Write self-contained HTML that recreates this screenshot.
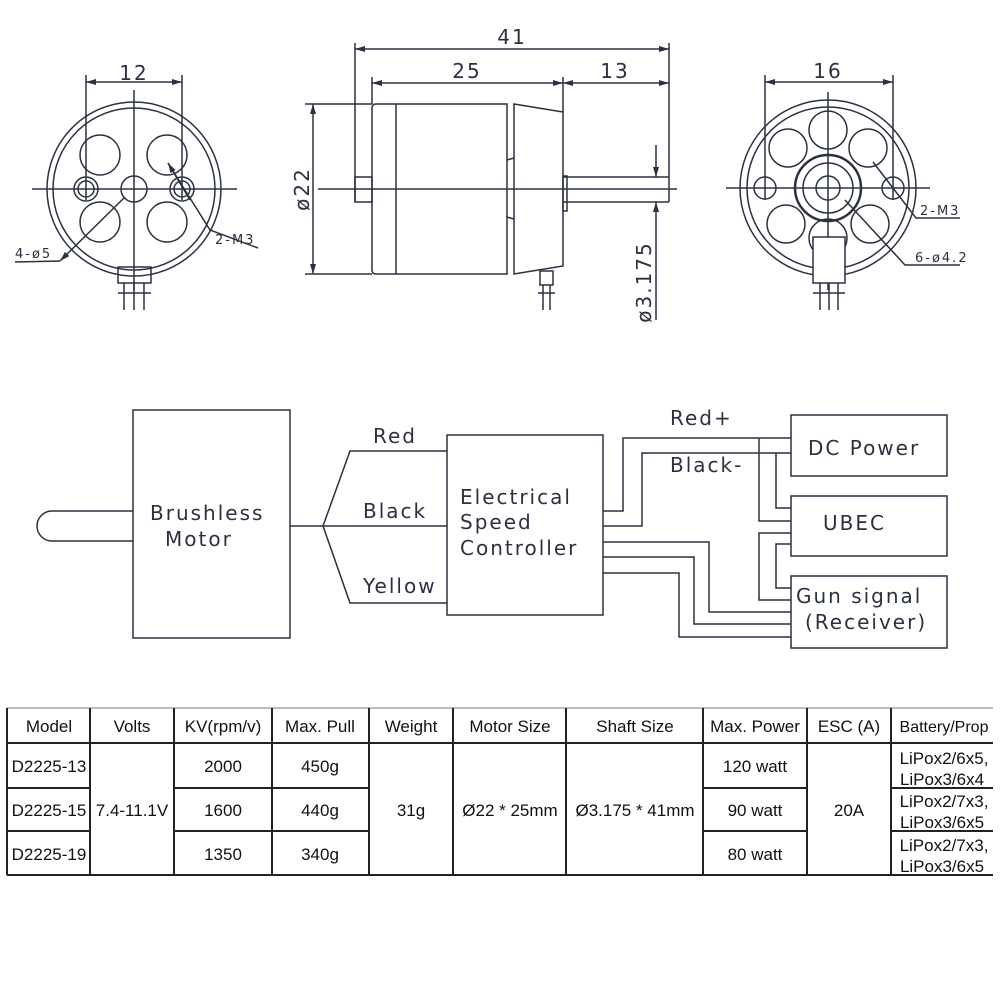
<!DOCTYPE html>
<html><head><meta charset="utf-8"><style>
html,body{margin:0;padding:0;background:#fff;width:1000px;height:1000px;overflow:hidden}
svg{display:block}
.d{fill:none;stroke:#2c3140;stroke-width:1.5}
.t{font-family:"DejaVu Sans","Liberation Sans",sans-serif;fill:#2c3140;font-size:20px;letter-spacing:2px}
.tb{font-family:"Liberation Sans",sans-serif;fill:#111;font-size:17px;text-anchor:middle}
.g{stroke:#222;stroke-width:2;fill:none}
</style></head><body>
<svg width="1000" height="1000" viewBox="0 0 1000 1000">
<defs>
<marker id="a" viewBox="0 0 10 6" refX="10" refY="3" markerWidth="10" markerHeight="6" orient="auto-start-reverse" markerUnits="userSpaceOnUse"><path d="M0,0L10,3L0,6z" fill="#2c3140"/></marker>
</defs>
<!-- LEFT END VIEW -->
<g class="d">
<circle cx="134" cy="189" r="87"/><circle cx="134" cy="189" r="81"/>
<line x1="32" y1="189" x2="237" y2="189"/><line x1="134" y1="90" x2="134" y2="290"/>
<circle cx="100" cy="155" r="20"/><circle cx="167" cy="155" r="20"/>
<circle cx="100" cy="222" r="20"/><circle cx="167" cy="222" r="20"/>
<circle cx="134" cy="189" r="13"/>
<circle cx="86" cy="189" r="12"/><circle cx="86" cy="189" r="8"/>
<circle cx="182" cy="189" r="12"/><circle cx="182" cy="189" r="8"/>
<line x1="86" y1="75" x2="86" y2="200"/><line x1="182" y1="75" x2="182" y2="200"/>
<line x1="86" y1="82" x2="182" y2="82" marker-start="url(#a)" marker-end="url(#a)"/>
<line x1="125" y1="197" x2="60" y2="261" marker-end="url(#a)"/><polyline points="60,261 15,262"/>
<polyline points="168,163 210,230 258,248"/><line x1="190" y1="200" x2="168" y2="163" marker-end="url(#a)"/>
<rect x="118" y="267" width="33" height="16"/>
<line x1="124" y1="283" x2="124" y2="310"/><line x1="134" y1="283" x2="134" y2="310"/><line x1="144" y1="283" x2="144" y2="310"/>
<line x1="118" y1="293" x2="151" y2="293"/>
</g>
<text class="t" x="134" y="80" text-anchor="middle">12</text>
<text class="t" x="15" y="258" style="font-size:13px">4-ø5</text>
<text class="t" x="215" y="244" style="font-size:13px">2-M3</text>
<!-- SIDE VIEW -->
<g class="d">
<line x1="355" y1="43" x2="355" y2="202"/><line x1="669" y1="43" x2="669" y2="202"/>
<line x1="355" y1="49" x2="669" y2="49" marker-start="url(#a)" marker-end="url(#a)"/>
<line x1="372" y1="77" x2="372" y2="104"/><line x1="563" y1="77" x2="563" y2="112"/>
<line x1="372" y1="83" x2="563" y2="83" marker-start="url(#a)" marker-end="url(#a)"/>
<line x1="563" y1="83" x2="669" y2="83" marker-start="url(#a)" marker-end="url(#a)"/>
<path d="M376,104H507V274H376Q372,274 372,270V108Q372,104 376,104z"/>
<line x1="396" y1="104" x2="396" y2="274"/>
<polygon points="514,104 563,112 563,266 514,274"/>
<line x1="507" y1="160" x2="514" y2="158"/><line x1="507" y1="217" x2="514" y2="219"/>
<rect x="355" y="177" width="17" height="25"/>
<line x1="563" y1="177" x2="669" y2="177"/><line x1="563" y1="202" x2="669" y2="202"/>
<rect x="563" y="176" width="4" height="35"/>
<line x1="318" y1="189" x2="677" y2="189"/>
<line x1="305" y1="104" x2="372" y2="104"/><line x1="305" y1="274" x2="372" y2="274"/>
<line x1="313" y1="104" x2="313" y2="274" marker-start="url(#a)" marker-end="url(#a)"/>
<line x1="656" y1="145" x2="656" y2="177" marker-end="url(#a)"/>
<line x1="656" y1="320" x2="656" y2="202" marker-end="url(#a)"/>
<rect x="540" y="271" width="13" height="14"/>
<line x1="543" y1="285" x2="543" y2="310"/><line x1="550" y1="285" x2="550" y2="310"/>
<line x1="538" y1="293" x2="555" y2="293"/>
</g>
<text class="t" x="512" y="44" text-anchor="middle">41</text>
<text class="t" x="467" y="78" text-anchor="middle">25</text>
<text class="t" x="615" y="78" text-anchor="middle">13</text>
<text class="t" transform="translate(309,189) rotate(-90)" text-anchor="middle">ø22</text>
<text class="t" transform="translate(651,282) rotate(-90)" text-anchor="middle">ø3.175</text>
<!-- RIGHT END VIEW -->
<g class="d">
<circle cx="828" cy="188" r="88"/><circle cx="828" cy="188" r="81"/>
<line x1="726" y1="188" x2="930" y2="188"/><line x1="828" y1="92" x2="828" y2="290"/>
<circle cx="828" cy="130" r="19"/><circle cx="788" cy="148" r="19"/><circle cx="868" cy="148" r="19"/>
<circle cx="786" cy="224" r="19"/><circle cx="870" cy="224" r="19"/><circle cx="828" cy="238" r="19"/>
<circle cx="828" cy="188" r="33" stroke-width="2.5"/><circle cx="828" cy="188" r="25"/><circle cx="828" cy="188" r="12"/>
<circle cx="765" cy="188" r="11"/><circle cx="893" cy="188" r="11"/>
<line x1="765" y1="75" x2="765" y2="200"/><line x1="893" y1="75" x2="893" y2="200"/>
<line x1="765" y1="82" x2="893" y2="82" marker-start="url(#a)" marker-end="url(#a)"/>
<polyline points="873,162 916,218 960,218"/>
<polyline points="845,200 905,265 960,265"/>
<rect x="813" y="237" width="32" height="46" fill="#fff"/>
<line x1="820" y1="283" x2="820" y2="310"/><line x1="829" y1="283" x2="829" y2="310"/><line x1="838" y1="283" x2="838" y2="310"/>
<line x1="813" y1="293" x2="845" y2="293"/>
</g>
<text class="t" x="828" y="78" text-anchor="middle">16</text>
<text class="t" x="920" y="215" style="font-size:13px">2-M3</text>
<text class="t" x="915" y="262" style="font-size:13px">6-ø4.2</text>
<!-- WIRING -->
<g class="d">
<rect x="133" y="410" width="157" height="228"/>
<path d="M133,511H52A15,15 0 0 0 52,541H133"/>
<line x1="290" y1="526" x2="323" y2="526"/>
<polyline points="447,451 350,451 323,526 350,603 447,603"/>
<line x1="323" y1="526" x2="447" y2="526"/>
<rect x="447" y="435" width="156" height="180"/>
<rect x="791" y="415" width="156" height="61"/>
<rect x="791" y="496" width="156" height="60"/>
<rect x="791" y="576" width="156" height="72"/>
<polyline points="603,511 623,511 623,438 791,438"/>
<polyline points="603,526 642,526 642,453 791,453"/>
<polyline points="759,438 759,521 791,521"/>
<polyline points="776,453 776,508 791,508"/>
<polyline points="791,533 759,533 759,600 791,600"/>
<polyline points="791,544 776,544 776,588 791,588"/>
<polyline points="603,542 709,542 709,612 791,612"/>
<polyline points="603,557 694,557 694,624 791,624"/>
<polyline points="603,573 679,573 679,637 791,637"/>
</g>
<text class="t" x="150" y="520">Brushless</text>
<text class="t" x="165" y="546">Motor</text>
<text class="t" x="373" y="443">Red</text>
<text class="t" x="363" y="518">Black</text>
<text class="t" x="363" y="593">Yellow</text>
<text class="t" x="460" y="504">Electrical</text>
<text class="t" x="460" y="529">Speed</text>
<text class="t" x="460" y="555">Controller</text>
<text class="t" x="670" y="425">Red+</text>
<text class="t" x="670" y="472">Black-</text>
<text class="t" x="808" y="455">DC Power</text>
<text class="t" x="823" y="530">UBEC</text>
<text class="t" x="796" y="603">Gun signal</text>
<text class="t" x="805" y="629">(Receiver)</text>
<!-- TABLE -->
<g class="g">
<line x1="7" y1="708" x2="993" y2="708" stroke="#bbb"/>
<line x1="7" y1="743" x2="993" y2="743"/>
<line x1="7" y1="875" x2="993" y2="875"/>
<line x1="7" y1="788" x2="90" y2="788"/><line x1="7" y1="831" x2="90" y2="831"/>
<line x1="174" y1="788" x2="369" y2="788"/><line x1="174" y1="831" x2="369" y2="831"/>
<line x1="703" y1="788" x2="807" y2="788"/><line x1="703" y1="831" x2="807" y2="831"/>
<line x1="891" y1="788" x2="993" y2="788"/><line x1="891" y1="831" x2="993" y2="831"/>
<line x1="7" y1="708" x2="7" y2="875"/>
<line x1="90" y1="708" x2="90" y2="875"/><line x1="174" y1="708" x2="174" y2="875"/>
<line x1="272" y1="708" x2="272" y2="875"/><line x1="369" y1="708" x2="369" y2="875"/>
<line x1="453" y1="708" x2="453" y2="875"/><line x1="566" y1="708" x2="566" y2="875"/>
<line x1="703" y1="708" x2="703" y2="875"/><line x1="807" y1="708" x2="807" y2="875"/>
<line x1="891" y1="708" x2="891" y2="875"/>
</g>
<g class="tb">
<text x="49" y="732">Model</text><text x="132" y="732">Volts</text><text x="223" y="732">KV(rpm/v)</text>
<text x="320" y="732">Max. Pull</text><text x="411" y="732">Weight</text><text x="510" y="732">Motor Size</text>
<text x="635" y="732">Shaft Size</text><text x="755" y="732">Max. Power</text><text x="849" y="732">ESC (A)</text>
<text x="944" y="732" style="font-size:16px">Battery/Prop</text>
<text x="49" y="772">D2225-13</text><text x="49" y="816">D2225-15</text><text x="49" y="860">D2225-19</text>
<text x="132" y="816">7.4-11.1V</text>
<text x="223" y="772">2000</text><text x="223" y="816">1600</text><text x="223" y="860">1350</text>
<text x="320" y="772">450g</text><text x="320" y="816">440g</text><text x="320" y="860">340g</text>
<text x="411" y="816">31g</text><text x="510" y="816">Ø22 * 25mm</text><text x="635" y="816">Ø3.175 * 41mm</text>
<text x="755" y="772">120 watt</text><text x="755" y="816">90 watt</text><text x="755" y="860">80 watt</text>
<text x="849" y="816">20A</text>
<text x="944" y="764">LiPox2/6x5,</text><text x="942" y="785">LiPox3/6x4</text>
<text x="944" y="807">LiPox2/7x3,</text><text x="942" y="828">LiPox3/6x5</text>
<text x="944" y="851">LiPox2/7x3,</text><text x="942" y="872">LiPox3/6x5</text>
</g>
</svg>
</body></html>
